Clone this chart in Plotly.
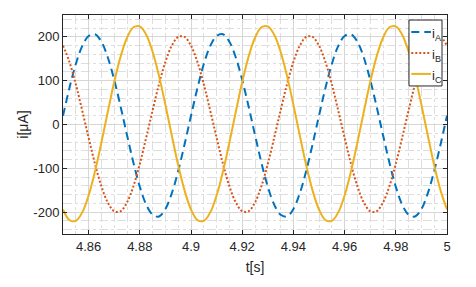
import numpy as np
import plotly.graph_objects as go

# time grid (s)
t = np.linspace(4.85, 5.0, 61)

i_A = [20, 83, 138, 179, 202, 206, 189, 153, 102, 41, -24, -87, -142, -183, -206, -210, -193, -157, -106, -45,
       20, 83, 138, 179, 202, 206, 189, 153, 102, 41, -24, -87, -142, -183, -206, -210, -193, -157, -106, -45,
       20, 83, 138, 179, 202, 206, 189, 153, 102, 41, -24, -87, -142, -183, -206, -210, -193, -157, -106, -45,
       20]
i_B = [180, 143, 92, 32, -30, -90, -141, -178, -198, -198, -178, -141, -90, -30, 32, 92, 143, 180, 200, 200,
       180, 143, 92, 32, -30, -90, -141, -178, -198, -198, -178, -141, -90, -30, 32, 92, 143, 180, 200, 200,
       180, 143, 92, 32, -30, -90, -141, -178, -198, -198, -178, -141, -90, -30, 32, 92, 143, 180, 200, 200,
       180]
i_C = [-194, -218, -220, -201, -162, -107, -41, 29, 97, 155, 198, 222, 224, 205, 166, 111, 45, -25, -93, -151,
       -194, -218, -220, -201, -162, -107, -41, 29, 97, 155, 198, 222, 224, 205, 166, 111, 45, -25, -93, -151,
       -194, -218, -220, -201, -162, -107, -41, 29, 97, 155, 198, 222, 224, 205, 166, 111, 45, -25, -93, -151,
       -194]

x_ticks = [4.86, 4.88, 4.90, 4.92, 4.94, 4.96, 4.98, 5.00]
x_ticktext = ["4.86", "4.88", "4.9", "4.92", "4.94", "4.96", "4.98", "5"]
y_ticks = [-200, -100, 0, 100, 200]
y_ticktext = ["-200", "-100", "0", "100", "200"]

names = ["i<sub>A</sub>", "i<sub>B</sub>", "i<sub>C</sub>"]
colors = ["#0072BD", "#D95319", "#EDB120"]
dashes = ["8px,5px", "2px,2px", "solid"]

fig = go.Figure()
for y, n, c, d in zip([i_A, i_B, i_C], names, colors, dashes):
    fig.add_trace(go.Scatter(x=t, y=y, name=n, mode="lines", showlegend=False,
                             line=dict(color=c, width=2, dash=d, shape="spline", smoothing=1.0)))

axcol = "#262626"
gridcol = "#d6d6d6"
minorcol = "#dedede"

# compact legend box (paper coordinates inside the plot area)
lx0, lx1, ly0, ly1 = 0.901, 0.987, 0.676, 0.977
fig.add_shape(type="rect", xref="paper", yref="paper", x0=lx0, x1=lx1, y0=ly0, y1=ly1,
              line=dict(color=axcol, width=1), fillcolor="white", layer="above")
rows = [0.922, 0.826, 0.731]
for n, c, d, ry in zip(names, colors, dashes, rows):
    fig.add_shape(type="line", xref="paper", yref="paper", x0=0.907, x1=0.958, y0=ry, y1=ry,
                  line=dict(color=c, width=2, dash=d), layer="above")
    fig.add_annotation(xref="paper", yref="paper", x=0.956, y=ry - 0.012, text=n,
                       xanchor="left", yanchor="middle", showarrow=False,
                       font=dict(size=13, color=axcol))

fig.update_layout(
    width=476, height=287,
    margin=dict(l=63, r=29, t=15, b=53),
    paper_bgcolor="white", plot_bgcolor="white",
    font=dict(family="Liberation Sans, Arial, sans-serif", size=13, color=axcol),
    showlegend=False,
)
fig.update_xaxes(range=[4.85, 5.0], tickvals=x_ticks, ticktext=x_ticktext,
                 ticks="inside", ticklen=4, tickcolor=axcol, showline=True, linecolor=axcol,
                 linewidth=1, mirror="ticks", showgrid=True, gridcolor=gridcol, gridwidth=1,
                 zeroline=False,
                 minor=dict(dtick=0.005, tick0=4.85, showgrid=True, gridcolor=minorcol,
                            griddash="dashdot", gridwidth=1),
                 title=dict(text="t[s]", font=dict(size=14), standoff=9))
fig.update_yaxes(range=[-250, 250], tickvals=y_ticks, ticktext=y_ticktext,
                 ticks="inside", ticklen=4, tickcolor=axcol, showline=True, linecolor=axcol,
                 linewidth=1, mirror="ticks", showgrid=True, gridcolor=gridcol, gridwidth=1,
                 zeroline=False,
                 minor=dict(dtick=20, tick0=0, showgrid=True, gridcolor=minorcol,
                            griddash="dashdot", gridwidth=1),
                 title=dict(text="i[μA]", font=dict(size=14), standoff=1))

fig.write_html("out.html")
